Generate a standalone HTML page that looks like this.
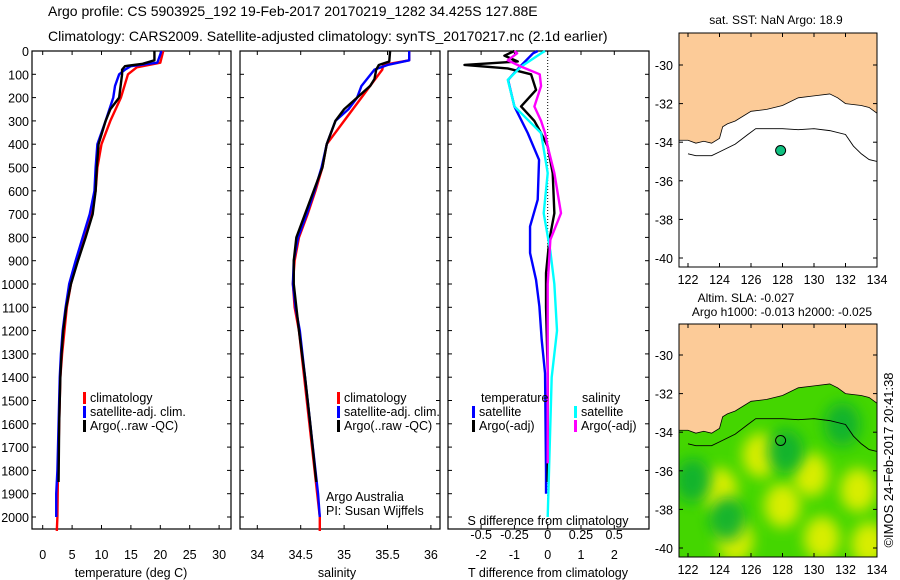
<!DOCTYPE html>
<html><head><meta charset="utf-8"><style>
body{margin:0;background:#fff}
svg{display:block;font-family:"Liberation Sans",sans-serif}
</style></head><body>
<svg id="c" width="900" height="580" viewBox="0 0 900 580">
<defs>
<clipPath id="m1c"><rect x="679" y="33" width="198" height="234"/></clipPath>
<clipPath id="m2c"><rect x="679" y="324" width="198" height="233"/></clipPath>
<filter id="bl" x="-50%" y="-50%" width="200%" height="200%"><feGaussianBlur stdDeviation="7"/></filter>
</defs>
<text x="48" y="16" font-size="14">Argo profile: CS 5903925_192 19-Feb-2017 20170219_1282 34.425S 127.88E</text>
<text x="48" y="41" font-size="14">Climatology: CARS2009. Satellite-adjusted climatology: synTS_20170217.nc (2.1d earlier)</text>
<g id="g"></g>
<text transform="translate(893,460) rotate(-90)" text-anchor="middle" font-size="13">©IMOS 24-Feb-2017 20:41:38</text>
</svg>
<script>
// ---- data ----
const depthTicks=[0,100,200,300,400,500,600,700,800,900,1000,1100,1200,1300,1400,1500,1600,1700,1800,1900,2000];
const tTicks=[0,5,10,15,20,25,30];
const sTicks=[34,34.5,35,35.5,36];
const dtTicks=[-2,-1,0,1,2];
const dsTicks=[-0.5,-0.25,0,0.25,0.5];
const dsTickLabels=["-0.5","-0.25","0","0.25","0.5"];
const tClimDepth=[0,50,70,100,200,300,400,500,600,700,800,900,1000,1100,1200,1300,1400,1600,1800,2000,2060];
const tClim=[20.5,20,16,14.5,13.3,11.5,10,9.3,9,8.3,7,5.8,4.8,4.1,3.7,3.3,3,2.8,2.6,2.5,2.4];
const tSatDepth=[0,50,65,80,100,150,200,300,400,500,600,700,800,900,1000,1100,1200,1300,1400,1600,1800,1900,2000];
const tSat=[20.2,19.5,15,14,13,12.3,12,10.7,9.3,9,8.8,8,6.8,5.6,4.5,3.9,3.4,3.1,2.9,2.7,2.5,2.3,2.3];
const tArgoDepth=[0,40,55,65,80,100,200,250,300,400,500,600,700,800,900,1000,1100,1200,1300,1400,1600,1850];
const tArgo=[19,19,17,14,13.5,13.5,13,11.5,10.7,9.5,9.2,9,8.5,7.3,6,4.8,4,3.5,3.2,3,2.8,2.7];
const sClimDepth=[0,40,60,80,150,200,300,350,400,500,600,700,800,900,1000,1100,1200,1400,1600,1800,1900,2000,2060];
const sClim=[35.75,35.75,35.45,35.44,35.3,35.2,35.0,34.9,34.8,34.75,34.67,34.58,34.48,34.43,34.41,34.43,34.48,34.54,34.6,34.66,34.69,34.72,34.72];
const sSatDepth=[0,40,60,80,150,200,250,300,400,500,600,700,800,900,1000,1100,1200,1400,1600,1800,1900,2000];
const sSat=[35.75,35.75,35.5,35.35,35.2,35.15,35.05,34.9,34.8,34.74,34.66,34.57,34.47,34.42,34.41,34.44,34.49,34.55,34.61,34.67,34.7,34.72];
const sArgoDepth=[0,45,60,80,120,150,200,250,300,400,500,600,700,800,900,1000,1200,1400,1600,1850];
const sArgo=[35.53,35.52,35.4,35.37,35.35,35.3,35.15,35.0,34.9,34.8,34.75,34.65,34.55,34.45,34.42,34.42,34.48,34.55,34.61,34.68];
const dTSatDepth=[0,10,67,124,238,352,467,638,753,867,982,1096,1240,1383,1812,1900];
const dTSat=[-0.3,-0.44,-0.83,-1.19,-1.0,-0.6,-0.26,-0.3,-0.53,-0.53,-0.35,-0.25,-0.18,-0.08,-0.05,-0.05];
const dTArgoDepth=[0,20,45,60,75,100,167,238,300,352,410,524,696,810,953,1100,1380,1580,1850];
const dTArgo=[-1.0,-1.3,-0.9,-2.5,-1.2,-0.5,-0.35,-0.8,-0.4,-0.2,0,0.15,0.2,0.05,-0.05,-0.05,0,0,0];
const dSSatDepth=[0,10,67,124,238,352,524,696,860,1000,1200,1400,1800,2000];
const dSSat=[-0.02,-0.05,-0.2,-0.3,-0.25,-0.05,0,-0.03,0.02,0.05,0.07,0.03,0.01,0];
const dSArgoDepth=[0,10,40,67,100,150,238,300,352,410,524,696,810,1000,1380,1770];
const dSArgo=[-0.25,-0.23,-0.3,-0.2,-0.06,-0.05,-0.1,-0.05,-0.02,0,0.05,0.1,0.02,0,0,0];
const lonTicks=[122,124,126,128,130,132,134];
const latTicks=[-30,-32,-34,-36,-38,-40];
const coastLon=[122,122.5,123,123.5,124,124.2,124.5,125,126,127,128,129,130,131,131.5,132,133,133.5,134];
const coastLat=[-33.9,-34.05,-33.95,-34.05,-33.8,-33.2,-33.05,-32.9,-32.4,-32.3,-32.1,-31.7,-31.6,-31.5,-31.7,-32.0,-32.1,-32.2,-32.5];
const isoLon=[122,122.5,123.5,124,125,125.8,126.3,127,128,129,130,131,132,132.5,133,133.5,134];
const isoLat=[-34.6,-34.7,-34.7,-34.5,-34.1,-33.6,-33.3,-33.3,-33.3,-33.35,-33.3,-33.4,-33.6,-34.2,-34.6,-34.9,-35.0];
const argoLon=127.88, argoLat=-34.43;
const blobLon=[126.6,129.8,132.8,124.0,128.0,125.0,130.5,122.3,128.2,131.8,124.5,133.5];
const blobLat=[-35.2,-36.2,-37.0,-37.0,-37.8,-39.6,-39.5,-36.5,-35.0,-33.6,-38.5,-39.8];
const blobKind=["y","y","y","y","y","y","y","d","d","d","d","y"];
</script>
<script>
const NS="http://www.w3.org/2000/svg",G=document.getElementById('g');
function el(t,a,p){const e=document.createElementNS(NS,t);for(const k in a)e.setAttribute(k,a[k]);(p||G).appendChild(e);return e;}
const PT=51,PB=529;const yD=d=>51+d*0.233;
const xT=v=>42.7+v*5.88, xS=v=>257.3+(v-34)*86.8, xDT=v=>547.7+v*33.3, xDS=v=>547.7+v*133;
const mx=l=>688+(l-122)*15.75, my1=l=>65+(-30-l)*19.3, my2=l=>355+(-30-l)*19.3;
function frame(x0,x1,name){const r=el('rect',{x:x0,y:PT,width:x1-x0,height:PB-PT,fill:'none',stroke:'#000','stroke-width':1.2});}
function line(xs,ds,fx,col,name,w){const p=xs.map((v,i)=>fx(v)+','+yD(ds[i]));const e=el('polyline',{points:p.join(' '),fill:'none',stroke:col,'stroke-width':w||2.4,'stroke-linejoin':'round'});}
function txt(x,y,s,o){const e=el('text',Object.assign({x:x,y:y,'font-size':12.5},o||{}));e.textContent=s;return e;}
frame(32,231,'temperature-panel');frame(240,440,'salinity-panel');frame(448,649,'difference-panel');
depthTicks.forEach(d=>{const y=yD(d);[[32,231],[240,440],[448,649]].forEach(([a,b])=>{el('line',{x1:a,x2:a+4,y1:y,y2:y,stroke:'#000'});el('line',{x1:b,x2:b-4,y1:y,y2:y,stroke:'#000'});});
 const t=txt(29,y+5,String(d),{'text-anchor':'end'});});
tTicks.forEach(v=>{const x=xT(v);el('line',{x1:x,x2:x,y1:PB,y2:PB-4,stroke:'#000'});el('line',{x1:x,x2:x,y1:PT,y2:PT+4,stroke:'#000'});const t=txt(x,559,String(v),{'text-anchor':'middle'});});
sTicks.forEach(v=>{const x=xS(v);el('line',{x1:x,x2:x,y1:PB,y2:PB-4,stroke:'#000'});el('line',{x1:x,x2:x,y1:PT,y2:PT+4,stroke:'#000'});const t=txt(x,559,String(v),{'text-anchor':'middle'});});
dtTicks.forEach(v=>{const x=xDT(v);el('line',{x1:x,x2:x,y1:PB,y2:PB-4,stroke:'#000'});el('line',{x1:x,x2:x,y1:PT,y2:PT+4,stroke:'#000'});const t=txt(x,559,String(v),{'text-anchor':'middle'});});
dsTicks.forEach((v,i)=>{const t=txt(xDS(v),539,dsTickLabels[i],{'text-anchor':'middle'});});
let a=txt(131,577,'temperature (deg C)',{'text-anchor':'middle'});
a=txt(337,577,'salinity',{'text-anchor':'middle'});
a=txt(548,577,'T difference from climatology',{'text-anchor':'middle'});
a=txt(548,525,'S difference from climatology',{'text-anchor':'middle'});
el('line',{x1:xDT(0),x2:xDT(0),y1:PT,y2:PB,stroke:'#000','stroke-dasharray':'1,2'});
line(tClim,tClimDepth,xT,'#f00','temp-climatology-line');
line(tSat,tSatDepth,xT,'#00f','temp-satellite-line');
line(tArgo,tArgoDepth,xT,'#000','temp-argo-line');
line(sClim,sClimDepth,xS,'#f00','sal-climatology-line');
line(sSat,sSatDepth,xS,'#00f','sal-satellite-line');
line(sArgo,sArgoDepth,xS,'#000','sal-argo-line');
line(dTSat,dTSatDepth,xDT,'#00f','t-diff-satellite-line');
line(dTArgo,dTArgoDepth,xDT,'#000','t-diff-argo-line');
line(dSSat,dSSatDepth,xDS,'#0ff','s-diff-satellite-line');
line(dSArgo,dSArgoDepth,xDS,'#f0f','s-diff-argo-line');
function leg(x,y,col,s,name){el('rect',{x:x,y:y-10,width:3,height:12,fill:col});const t=txt(x+7,y,s);}
[['climatology','#f00'],['satellite-adj. clim.','#00f'],['Argo(..raw -QC)','#000']].forEach((r,i)=>{leg(83,402+i*14,r[1],r[0],'legend-entry-temp');leg(337,402+i*14,r[1],r[0],'legend-entry-sal');});
a=txt(481,402,'temperature');
a=txt(582,402,'salinity');
leg(472,416,'#00f','satellite','legend-entry-t-sat');leg(472,430,'#000','Argo(-adj)','legend-entry-t-argo');
leg(574,416,'#0ff','satellite','legend-entry-s-sat');leg(574,430,'#f0f','Argo(-adj)','legend-entry-s-argo');
a=txt(326,501,'Argo Australia');
a=txt(326,515,'PI: Susan Wijffels');
function map(top,h,my,clip,field,name){
 const g=el('g',{'clip-path':'url(#'+clip+')'});
 el('rect',{x:679,y:top,width:198,height:h,fill:field?'#44d600':'#fff'},g);
 if(field){blobLon.forEach((l,i)=>{const b=el('ellipse',{cx:mx(l),cy:my(blobLat[i]),rx:18,ry:22,fill:blobKind[i]=='y'?'#e8f000':'#10b030',opacity:0.9,filter:'url(#bl)'},g);});}
 let p=coastLon.map((l,i)=>mx(l)+','+my(coastLat[i]));
 const land=el('polygon',{points:'679,'+top+' 877,'+top+' 877,'+my(coastLat[coastLat.length-1])+' '+p.reverse().join(' ')+' 679,'+my(coastLat[0]),fill:'#fccb98',stroke:'#000','stroke-width':0.8},g);
 
 const iso=el('polyline',{points:isoLon.map((l,i)=>mx(l)+','+my(isoLat[i])).join(' '),fill:'none',stroke:'#000','stroke-width':0.9},g);
 
 const fr=el('rect',{x:679,y:top,width:198,height:h,fill:'none',stroke:'#000'});
 lonTicks.forEach(l=>{const x=mx(l);el('line',{x1:x,x2:x,y1:top+h,y2:top+h-4,stroke:'#000'});el('line',{x1:x,x2:x,y1:top,y2:top+4,stroke:'#000'});const t=txt(x,top+h+17,String(l),{'text-anchor':'middle'});});
 latTicks.forEach(l=>{const y=my(l);el('line',{x1:679,x2:683,y1:y,y2:y,stroke:'#000'});el('line',{x1:877,x2:873,y1:y,y2:y,stroke:'#000'});const t=txt(673,y+5,String(l),{'text-anchor':'end'});});
 const c=el('circle',{cx:mx(argoLon),cy:my(argoLat),r:5,fill:field?'none':'#10c080',stroke:'#000','stroke-width':1});
}
map(33,234,my1,'m1c',false,'sst-map');
map(324,233,my2,'m2c',true,'sla-map');
a=txt(776,24,'sat. SST: NaN Argo: 18.9',{'text-anchor':'middle','font-size':12});
a=txt(746,302,'Altim. SLA: -0.027',{'text-anchor':'middle','font-size':12});
a=txt(782,316,'Argo h1000: -0.013 h2000: -0.025',{'text-anchor':'middle','font-size':12});
</script>
</body></html>
